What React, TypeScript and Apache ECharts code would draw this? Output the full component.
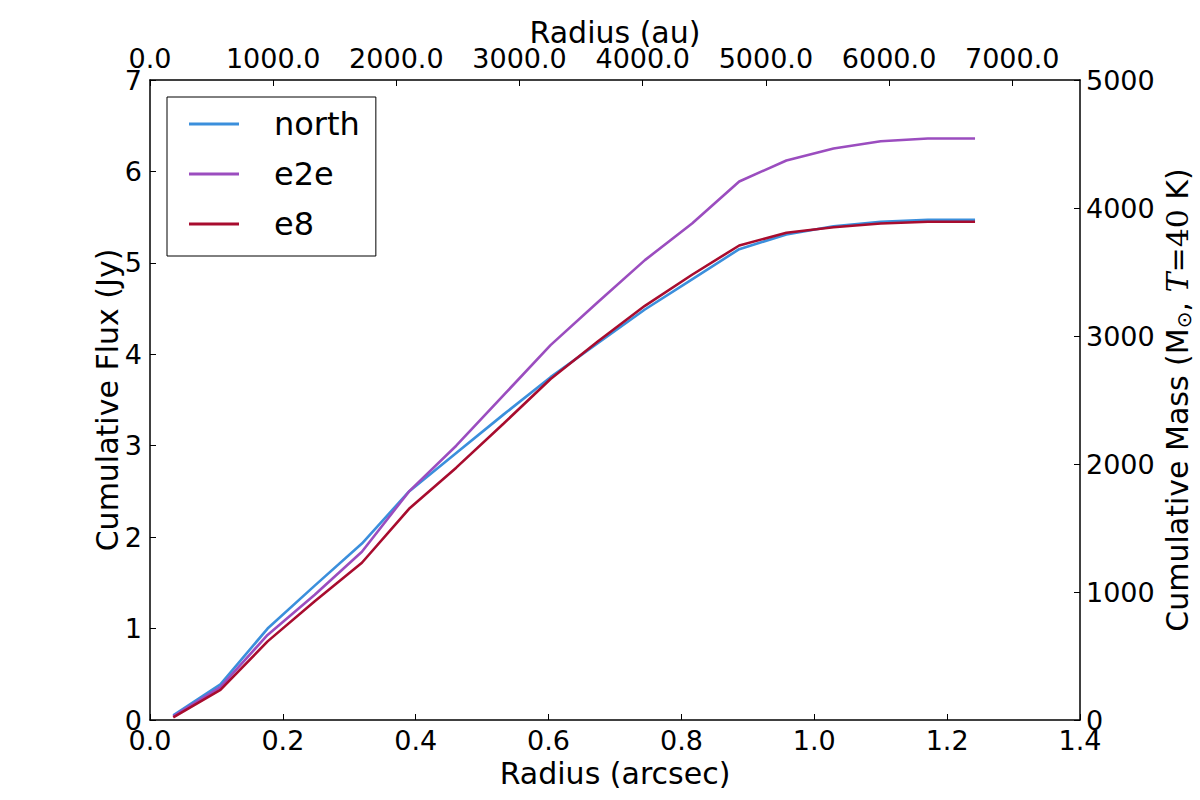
import React, { useEffect, useRef } from "react";
import * as echarts from "echarts";

// Radius of each annulus (arcsec)
const radiusArcsec = [0.035, 0.106, 0.177, 0.248, 0.319, 0.39, 0.461, 0.532, 0.603, 0.674, 0.745, 0.816, 0.887, 0.958, 1.029, 1.1, 1.171, 1.242];

// Cumulative flux (Jy) per region
const northFlux = [0.05, 0.39, 1.0, 1.47, 1.93, 2.5, 2.92, 3.34, 3.75, 4.12, 4.49, 4.82, 5.15, 5.31, 5.4, 5.45, 5.47, 5.47];
const e2eFlux = [0.04, 0.36, 0.93, 1.37, 1.84, 2.5, 3.0, 3.55, 4.1, 4.57, 5.03, 5.43, 5.89, 6.12, 6.25, 6.33, 6.36, 6.36];
const e8Flux = [0.03, 0.33, 0.86, 1.3, 1.72, 2.31, 2.76, 3.24, 3.73, 4.14, 4.53, 4.87, 5.19, 5.33, 5.39, 5.43, 5.45, 5.45];

const seriesNames = ["north", "e2e", "e8"];
const seriesColors = ["#3b8fdc", "#9b4dbf", "#a80c2e"];

// Tick positions on the four axes
const arcsecTicks = [0, 0.2, 0.4, 0.6, 0.8, 1.0, 1.2, 1.4];
const auTicks = [0, 1000, 2000, 3000, 4000, 5000, 6000, 7000];
const fluxTicks = [0, 1, 2, 3, 4, 5, 6, 7];
const massTicks = [0, 1000, 2000, 3000, 4000, 5000];

// Secondary axes: au along the top, solar masses on the right
const arcsecMax = 1.4;
const auMax = 7550;
const massMax = 5000;
const fluxMax = 7;

const FONT = "DejaVu Sans";
const TICK_SIZE = 27;
const NAME_SIZE = 30;

export default function App() {
  const ref = useRef<HTMLDivElement>(null);

  useEffect(() => {
    if (!ref.current) return;
    const chart = echarts.init(ref.current, null, { renderer: "svg" });

    const axisLine = { show: true, onZero: false, lineStyle: { color: "#000", width: 1.5 } };
    const tick = (values: number[]) => ({
      show: true,
      inside: true,
      length: 6,
      customValues: values,
      lineStyle: { color: "#000", width: 1 },
    });
    const minorTick = { show: false };
    const tickLabel = { color: "#000", fontFamily: FONT, fontSize: TICK_SIZE };
    const nameStyle = { color: "#000", fontFamily: FONT, fontSize: NAME_SIZE };

    const fluxData = [northFlux, e2eFlux, e8Flux];

    chart.setOption({
      animation: false,
      backgroundColor: "#fff",
      grid: {
        left: 150,
        right: 120,
        top: 80,
        bottom: 80,
        containLabel: false,
        outerBoundsMode: "none",
      },
      legend: {
        data: seriesNames,
        orient: "vertical",
        left: 167,
        top: 97,
        width: 210,
        padding: [11, 16, 16, 22],
        itemGap: 18,
        itemWidth: 50,
        itemHeight: 3,
        icon: "rect",
        borderColor: "#000",
        borderWidth: 1,
        borderRadius: 0,
        textStyle: { color: "#000", fontFamily: FONT, fontSize: 32, padding: [0, 0, 0, 30] },
      },
      xAxis: [
        {
          type: "value",
          position: "bottom",
          min: 0,
          max: arcsecMax,
          interval: 0.2,
          name: "Radius (arcsec)",
          nameLocation: "middle",
          nameGap: 38,
          nameMoveOverlap: false,
          nameTextStyle: nameStyle,
          axisLine,
          axisTick: tick(arcsecTicks),
          minorTick,
          splitLine: { show: false },
          axisLabel: { ...tickLabel, margin: 7, formatter: (v: number) => v.toFixed(1) },
        },
        {
          type: "value",
          position: "top",
          min: 0,
          max: auMax,
          interval: 1000,
          name: "Radius (au)",
          nameLocation: "middle",
          nameGap: 33,
          nameMoveOverlap: false,
          nameTextStyle: nameStyle,
          axisLine,
          axisTick: tick(auTicks),
          minorTick,
          splitLine: { show: false },
          axisLabel: { ...tickLabel, margin: 8, showMaxLabel: false, formatter: (v: number) => v.toFixed(1) },
        },
      ],
      yAxis: [
        {
          type: "value",
          position: "left",
          min: 0,
          max: fluxMax,
          interval: 1,
          name: "Cumulative Flux (Jy)",
          nameLocation: "middle",
          nameRotate: 90,
          nameGap: 28,
          nameMoveOverlap: false,
          nameTextStyle: nameStyle,
          axisLine,
          axisTick: tick(fluxTicks),
          minorTick,
          splitLine: { show: false },
          axisLabel: { ...tickLabel, margin: 8 },
        },
        {
          type: "value",
          position: "right",
          min: 0,
          max: massMax,
          interval: 1000,
          name: "{a|Cumulative Mass (M}{s|⊙}{a|, }{t|T}{m|=40}{a| K)}",
          nameLocation: "middle",
          nameRotate: 90,
          nameGap: 80,
          nameMoveOverlap: false,
          nameTextStyle: {
            ...nameStyle,
            rich: {
              a: { fontFamily: FONT, fontSize: NAME_SIZE, color: "#000" },
              s: { fontFamily: FONT, fontSize: 20, color: "#000", padding: [14, 0, 0, 0] },
              t: { fontFamily: "DejaVu Serif", fontStyle: "italic", fontSize: NAME_SIZE, color: "#000" },
              m: { fontFamily: "DejaVu Serif", fontSize: NAME_SIZE, color: "#000" },
            },
          },
          axisLine,
          axisTick: tick(massTicks),
          minorTick,
          splitLine: { show: false },
          axisLabel: { ...tickLabel, margin: 6, formatter: (v: number) => String(v) },
        },
      ],
      series: seriesNames.map((name, k) => ({
        name,
        type: "line",
        xAxisIndex: 0,
        yAxisIndex: 0,
        showSymbol: false,
        symbol: "none",
        color: seriesColors[k],
        lineStyle: { color: seriesColors[k], width: 2.6 },
        data: radiusArcsec.map((r, i) => [r, fluxData[k][i]]),
      })),
    });

    return () => chart.dispose();
  }, []);

  return (
    <div
      ref={ref}
      style={{ position: "fixed", left: 0, top: 0, width: 1200, height: 800, background: "#fff" }}
    />
  );
}
